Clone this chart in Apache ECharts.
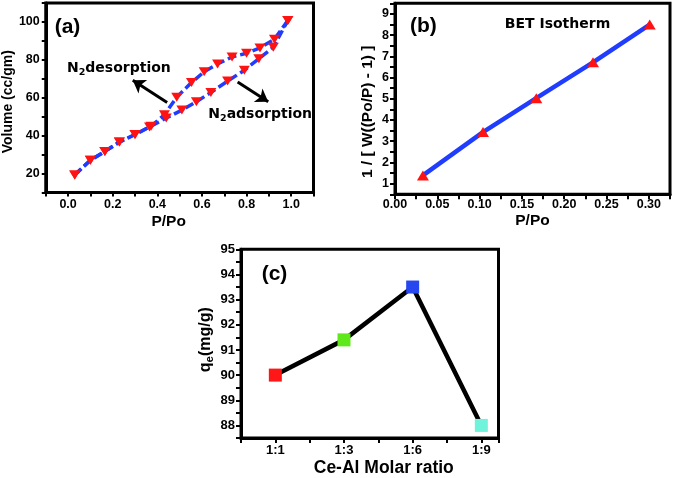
<!DOCTYPE html>
<html><head><meta charset="utf-8">
<script src="https://cdn.jsdelivr.net/npm/echarts@6/dist/echarts.min.js"></script>
<style>html,body{margin:0;padding:0;background:#fff}#c{width:673px;height:478px}</style>
</head><body><div id="c"></div>
<script>
// (a) N2 isotherm
const adsX = [0.03, 0.10, 0.165, 0.23, 0.30, 0.365, 0.44, 0.51, 0.575, 0.64, 0.715, 0.79, 0.855, 0.92, 0.985];
const adsY = [19.3, 27.0, 31.7, 36.6, 40.6, 44.6, 49.3, 53.5, 57.9, 62.8, 68.8, 74.5, 80.6, 86.7, 100.8];
const desX = [0.985, 0.925, 0.86, 0.80, 0.735, 0.67, 0.61, 0.553, 0.487, 0.432, 0.372, 0.30, 0.23, 0.165, 0.10, 0.03];
const desY = [100.8, 90.9, 86.3, 83.5, 81.5, 77.8, 73.7, 68.0, 60.3, 51.0, 45.0, 40.6, 36.6, 31.7, 27.0, 19.3];
// (b) BET
const betX = [0.033, 0.104, 0.167, 0.234, 0.301];
const betY = [1.39, 3.43, 5.03, 6.72, 8.50];
// (c) qe vs ratio
const ratioCats = ['1:1', '1:3', '1:6', '1:9'];
const qeVals = [90.0, 91.4, 93.5, 88.0];
const qeColors = ['#ff1616', '#5fe91c', '#2646ef', '#6ff3da'];

const TF = '"Liberation Sans", Arial, sans-serif';
const DF = '"DejaVu Sans", Verdana, sans-serif';
const BLUE = '#1f3cff', RED = '#ff1212';

function axisCommon(tickLen, fs, margin, fmt) {
  return {
    type: 'value',
    axisLine: { onZero: false, lineStyle: { color: '#000', width: 3 } },
    axisTick: { show: true, inside: false, length: tickLen, lineStyle: { color: '#000', width: 2 } },
    splitLine: { show: false },
    axisLabel: { color: '#000', fontWeight: 'bold', fontSize: fs, fontFamily: TF, margin: margin, formatter: fmt },
    nameLocation: 'middle',
    nameTextStyle: { color: '#000', fontWeight: 'bold', fontFamily: TF }
  };
}
function merge(a, b) { const o = Object.assign({}, a, b); if (b.nameTextStyle) o.nameTextStyle = Object.assign({}, a.nameTextStyle, b.nameTextStyle); return o; }

const chart = echarts.init(document.getElementById('c'), null, { renderer: 'canvas' });
const gridStyle = { show: true, borderColor: '#000', borderWidth: 3, backgroundColor: '#fff' };

const option = {
  animation: false,
  backgroundColor: '#fff',
  grid: [
    Object.assign({ left: 41.5, top: 3, width: 272, height: 189.5 }, gridStyle),
    Object.assign({ left: 395, top: 3.3, width: 275.5, height: 191 }, gridStyle),
    Object.assign({ left: 241, top: 249.3, width: 257.5, height: 190.7 }, gridStyle)
  ],
  xAxis: [
    merge(axisCommon(4, 12.5, 6, v => { const r = Math.round(v * 10); return (r < 0 || r > 10 || r % 2) ? '' : (r / 10).toFixed(1); }),
      { gridIndex: 0, min: -0.1, max: 1.1, interval: 0.1, name: 'P/Po', nameGap: 21, nameTextStyle: { fontSize: 15.5, padding: [0, 22, 0, 0] } }),
    merge(axisCommon(5, 12.5, 4, v => { const r = Math.round(v * 1000); return (r % 50 === 0 && r <= 300) ? (r / 1000).toFixed(2) : ''; }),
      { gridIndex: 1, min: 0, max: 0.325, interval: 0.025, name: 'P/Po', nameGap: 18, nameTextStyle: { fontSize: 15.5 } }),
    merge(axisCommon(5, 13, 6, v => { const r = Math.round(v * 4); return (r % 4 === 0 && r / 4 >= 1 && r / 4 <= 4) ? ratioCats[r / 4 - 1] : ''; }),
      { gridIndex: 2, min: 0.5, max: 4.25, interval: 0.5, name: 'Ce-Al Molar ratio', nameGap: 21, nameTextStyle: { fontSize: 17.5, padding: [0, 0, 0, 28] } })
  ],
  yAxis: [
    merge(axisCommon(4, 12.5, 6, v => { const r = Math.round(v); return (r % 20 === 0 && r >= 20 && r <= 100) ? String(r) : ''; }),
      { gridIndex: 0, min: 10, max: 110, interval: 10, name: 'Volume (cc/gm)', nameGap: 27, nameTextStyle: { fontSize: 14, padding: [0, 8, 0, 0] } }),
    merge(axisCommon(5, 12.5, 6, v => { const r = Math.round(v * 2); return r % 2 === 0 ? String(r / 2) : ''; }),
      { gridIndex: 1, min: 0.5, max: 9.5, interval: 0.5, name: '1 / [ W((Po/P) - 1) ]', nameGap: 19, nameTextStyle: { fontSize: 15.5, padding: [0, 26, 0, 0] } }),
    merge(axisCommon(5, 13, 6, v => { const r = Math.round(v * 2); return r % 2 === 0 ? String(r / 2) : ''; }),
      { gridIndex: 2, min: 87.5, max: 95, interval: 0.5, name: '{a|q}{b|e}{a|(mg/g)}', nameGap: 25,
        nameTextStyle: { fontSize: 16, padding: [0, 0, 0, 8], rich: { a: { fontSize: 16, fontWeight: 'bold', fontFamily: TF, color: '#000', verticalAlign: 'middle', lineHeight: 20 }, b: { fontSize: 11.5, fontWeight: 'bold', fontFamily: TF, color: '#000', verticalAlign: 'bottom', lineHeight: 20 } } } })
  ],
  series: [
    {
      type: 'line', xAxisIndex: 0, yAxisIndex: 0, name: 'adsorption',
      data: adsX.map((x, i) => [x, adsY[i]]),
      symbol: 'triangle', symbolRotate: 180, symbolSize: [11, 9], showSymbol: true,
      itemStyle: { color: RED }, lineStyle: { color: BLUE, width: 3.5, type: [9, 4] },
      markLine: {
        silent: true, symbol: ['none', 'arrow'], symbolSize: 12, animation: false,
        lineStyle: { color: '#000', width: 3, type: 'solid' }, label: { show: false },
        data: [
          [{ coord: [0.444, 57.5] }, { coord: [0.29, 69.2] }],
          [{ coord: [0.76, 68.3] }, { coord: [0.897, 57.9] }]
        ]
      }
    },
    {
      type: 'line', xAxisIndex: 0, yAxisIndex: 0, name: 'desorption',
      data: desX.map((x, i) => [x, desY[i]]),
      symbol: 'triangle', symbolRotate: 180, symbolSize: [11, 9], showSymbol: true,
      itemStyle: { color: RED }, lineStyle: { color: BLUE, width: 3.5, type: [9, 4] }
    },
    {
      type: 'line', xAxisIndex: 1, yAxisIndex: 1, name: 'BET',
      data: betX.map((x, i) => [x, betY[i]]),
      symbol: 'triangle', symbolSize: [12, 10], showSymbol: true,
      itemStyle: { color: RED }, lineStyle: { color: BLUE, width: 4.5 }
    },
    {
      type: 'line', xAxisIndex: 2, yAxisIndex: 2, name: 'qe',
      data: qeVals.map((v, i) => ({ value: [i + 1, v], itemStyle: { color: qeColors[i] } })),
      symbol: 'rect', symbolSize: 13, showSymbol: true,
      lineStyle: { color: '#000', width: 4.5 }
    }
  ],
  graphic: [
    { type: 'text', x: 67.5, y: 27.5, z: 100, style: { text: '(a)', fill: '#000', font: 'bold 21px ' + TF, align: 'center', verticalAlign: 'middle', textAlign: 'center', textVerticalAlign: 'middle' } },
    { type: 'text', x: 423.3, y: 26, z: 100, style: { text: '(b)', fill: '#000', font: 'bold 21px ' + TF, align: 'center', verticalAlign: 'middle', textAlign: 'center', textVerticalAlign: 'middle' } },
    { type: 'text', x: 274.5, y: 274.5, z: 100, style: { text: '(c)', fill: '#000', font: 'bold 21px ' + TF, align: 'center', verticalAlign: 'middle', textAlign: 'center', textVerticalAlign: 'middle' } },
    { type: 'text', x: 557.5, y: 24.7, z: 100, style: { text: 'BET Isotherm', fill: '#000', font: 'bold 14px ' + DF, align: 'center', verticalAlign: 'middle', textAlign: 'center', textVerticalAlign: 'middle' } },
    { type: 'text', x: 67, y: 68.5, z: 100, style: { text: '{n|N}{s|2}{n|desorption}', fill: '#000', align: 'left', verticalAlign: 'middle',
        rich: { n: { font: 'bold 14px ' + DF, fill: '#000', verticalAlign: 'middle', lineHeight: 18 }, s: { font: 'bold 9.5px ' + DF, fill: '#000', verticalAlign: 'bottom', lineHeight: 18 } } } },
    { type: 'text', x: 208.3, y: 114.8, z: 100, style: { text: '{n|N}{s|2}{n|adsorption}', fill: '#000', align: 'left', verticalAlign: 'middle',
        rich: { n: { font: 'bold 14px ' + DF, fill: '#000', verticalAlign: 'middle', lineHeight: 18 }, s: { font: 'bold 9.5px ' + DF, fill: '#000', verticalAlign: 'bottom', lineHeight: 18 } } } }
  ]
};
chart.setOption(option);
</script>
</body></html>
